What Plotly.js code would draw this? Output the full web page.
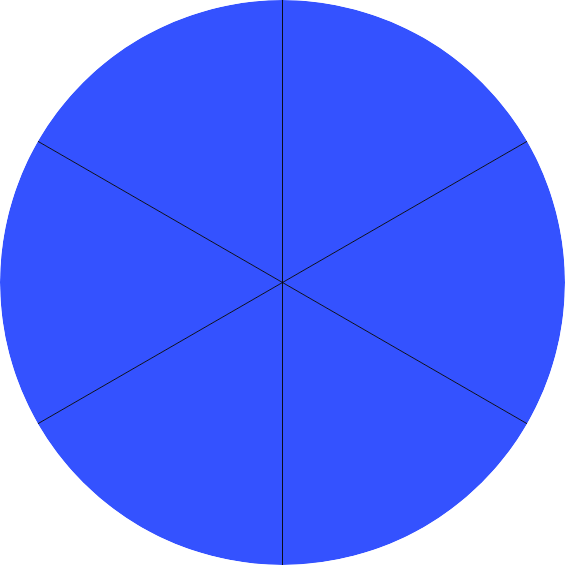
<!DOCTYPE html>
<html>
<head>
<meta charset="utf-8">
<script src="https://cdn.plot.ly/plotly-3.0.1.min.js"></script>
<style>html,body{margin:0;padding:0;background:#fff;}#chart{width:565px;height:565px;}</style>
</head>
<body>
<div id="chart"></div>
<script>
const labels = ["A", "B", "C", "D", "E", "F"];
const values = [1, 1, 1, 1, 1, 1];
const sliceColors = ["#3452FF", "#3452FF", "#3452FF", "#3452FF", "#3452FF", "#3452FF"];

const total = values.reduce((a, b) => a + b, 0);
const widths = values.map(v => v / total * 360);
const centers = [];
const edges = [];
let acc = 0;
values.forEach((v, i) => { edges.push(acc); centers.push(acc + widths[i] / 2); acc += widths[i]; });

const sepR = [], sepT = [];
edges.forEach(e => { sepR.push(0, 1, null); sepT.push(e, e, null); });

Plotly.newPlot("chart", [{
  type: "barpolar",
  r: values.map(() => 1),
  theta: centers,
  width: widths,
  text: labels,
  hoverinfo: "text",
  marker: {color: sliceColors, line: {width: 0}}
}, {
  type: "scatterpolar",
  mode: "lines",
  r: sepR,
  theta: sepT,
  hoverinfo: "skip",
  cliponaxis: false,
  line: {color: "#000000", width: 0.9}
}], {
  width: 565,
  height: 565,
  margin: {l: 0, r: 0, t: 0, b: 0, pad: 0},
  showlegend: false,
  paper_bgcolor: "#ffffff",
  polar: {
    domain: {x: [0, 1], y: [0, 1]},
    bgcolor: "rgba(0,0,0,0)",
    bargap: 0,
    radialaxis: {visible: false, range: [0, 1], showgrid: false},
    angularaxis: {
      rotation: 90,
      direction: "clockwise",
      showgrid: false,
      showline: false,
      showticklabels: false,
      ticks: ""
    }
  }
}, {displayModeBar: false, staticPlot: true});
</script>
</body>
</html>
